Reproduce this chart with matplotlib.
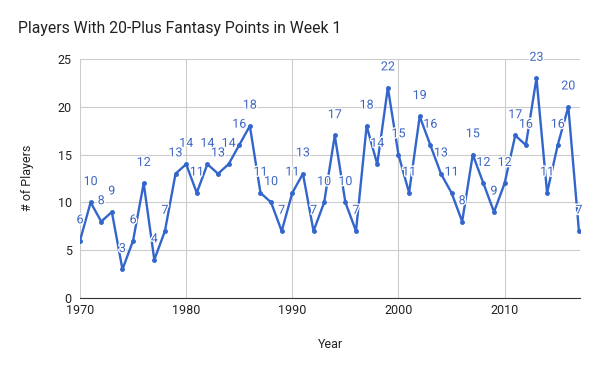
import matplotlib
matplotlib.use("Agg")
import matplotlib.pyplot as plt
import matplotlib.patheffects as pe

plt.rcParams['font.family'] = ['Roboto', 'DejaVu Sans']

years = list(range(1970, 2018))
players = [6, 10, 8, 9, 3, 6, 12, 4, 7, 13,
           14, 11, 14, 13, 14, 16, 18, 11, 10, 7,
           11, 13, 7, 10, 17, 10, 7, 18, 14, 22,
           15, 11, 19, 16, 13, 11, 8, 15, 12, 9,
           12, 17, 16, 23, 11, 16, 20, 7]
xticks = [1970, 1980, 1990, 2000, 2010]
yticks = [0, 5, 10, 15, 20, 25]

line_col = '#3366cc'
fig = plt.figure(figsize=(6, 3.71), dpi=100)
ax = fig.add_axes([80/600, 1 - 298/371, 500/600, 239/371])

ax.plot(years, players, color=line_col, lw=1.7, marker='o', ms=2.5, zorder=3)
for x, y in zip(years, players):
    ax.annotate(str(y), (x, y), xytext=(0, 15), textcoords='offset points',
                ha='center', va='center', fontsize=9, color='#3d66c4', zorder=4,
                path_effects=[pe.withStroke(linewidth=2, foreground='white')])

ax.set_xlim(1970, 2017.1)
ax.set_ylim(0, 25)
ax.set_xticks(xticks)
ax.set_yticks(yticks)
ax.grid(True, color='#cccccc', lw=0.8)
ax.set_axisbelow(True)
for s in ['top', 'right', 'left']:
    ax.spines[s].set_visible(False)
ax.spines['bottom'].set_color('#333333')
ax.tick_params(length=0, labelsize=9, colors='#222222')
ax.tick_params(axis='x', pad=4)
ax.tick_params(axis='y', pad=6)

fig.text(18/600, 1 - 28/371, 'Players With 20-Plus Fantasy Points in Week 1',
         fontsize=11.3, color='#222222', va='center')
fig.text(330/600, 1 - 345/371, 'Year', fontsize=9, color='#222222', ha='center', va='center')
fig.text(28/600, 1 - 178/371, '# of Players', fontsize=9, color='#222222',
         rotation=90, ha='center', va='center')

fig.savefig('out.png', dpi=100)
